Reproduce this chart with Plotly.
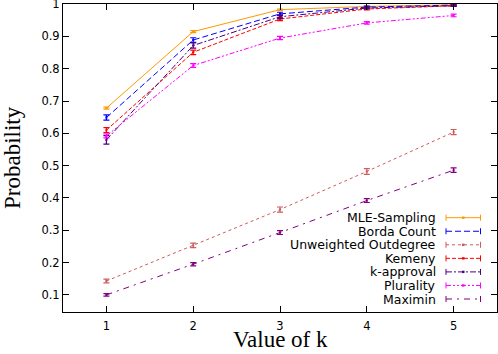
import plotly.graph_objects as go

k_values = [1, 2, 3, 4, 5]

mle_sampling = [0.678, 0.915, 0.983, 0.993, 0.998]
mle_sampling_err = [0.003, 0.003, 0.002, 0.001, 0.001]
borda_count = [0.649, 0.889, 0.970, 0.991, 0.997]
borda_count_err = [0.008, 0.007, 0.005, 0.003, 0.002]
unweighted_outdegree = [0.143, 0.253, 0.364, 0.482, 0.604]
unweighted_outdegree_err = [0.006, 0.007, 0.008, 0.009, 0.008]
kemeny = [0.610, 0.851, 0.954, 0.985, 0.995]
kemeny_err = [0.008, 0.007, 0.005, 0.003, 0.002]
k_approval = [0.580, 0.872, 0.961, 0.988, 0.995]
k_approval_err = [0.013, 0.008, 0.006, 0.003, 0.002]
plurality = [0.592, 0.810, 0.895, 0.942, 0.965]
plurality_err = [0.006, 0.006, 0.005, 0.004, 0.004]
maximin = [0.100, 0.195, 0.293, 0.392, 0.486]
maximin_err = [0.004, 0.005, 0.006, 0.006, 0.007]

series = [
    ('MLE-Sampling', mle_sampling, mle_sampling_err, '#ff9900', 'solid'),
    ('Borda Count', borda_count, borda_count_err, '#0000ff', '6px,3px'),
    ('Unweighted Outdegree', unweighted_outdegree, unweighted_outdegree_err, '#cd5c5c', '3px,3px'),
    ('Kemeny', kemeny, kemeny_err, '#ff0000', '4px,2px'),
    ('k-approval', k_approval, k_approval_err, '#4b0082', '6px,2px,2px,2px'),
    ('Plurality', plurality, plurality_err, '#ff00ff', '5px,2px,2px,2px,2px,2px'),
    ('Maximin', maximin, maximin_err, '#800080', '6px,5px,2px,5px'),
]

fig = go.Figure()
for name, vals, errs, color, dash in series:
    fig.add_scatter(x=k_values, y=vals, name=name, mode='lines+markers',
                    line=dict(color=color, width=1, dash=dash),
                    marker=dict(color=color, size=2, symbol='square'),
                    error_y=dict(type='data', array=errs, color=color, thickness=1.2, width=3),
                    showlegend=False)

# hand-built key: text right aligned, sample line on the right (gnuplot style)
W, H, L, T = 434, 308, 63, 4
def px(x):
    return (x - L) / W
def py(y):
    return (T + H - y) / H

shapes = []
annotations = []
for i, (name, vals, errs, color, dash) in enumerate(series):
    yy = 217.7 + i * 13.55
    annotations.append(dict(x=px(438), y=py(yy), xref='paper', yref='paper', text=name,
                            showarrow=False, xanchor='right', yanchor='middle',
                            font=dict(family='DejaVu Sans', size=12.5, color='black')))
    shapes.append(dict(type='line', xref='paper', yref='paper', x0=px(446), x1=px(480.5),
                       y0=py(yy), y1=py(yy), line=dict(color=color, width=1, dash=dash)))
    for xe in (446, 480.5):
        shapes.append(dict(type='line', xref='paper', yref='paper', x0=px(xe), x1=px(xe),
                           y0=py(yy - 3), y1=py(yy + 3), line=dict(color=color, width=1)))
    if dash not in ('6px,3px', '6px,5px,2px,5px'):
        shapes.append(dict(type='rect', xref='paper', yref='paper', x0=px(462), x1=px(464.5),
                           y0=py(yy - 1.2), y1=py(yy + 1.2), line=dict(width=0), fillcolor=color))

annotations.append(dict(x=0, y=0.5, xref='paper', yref='paper', text='Probability',
                        showarrow=False, textangle=-90, xanchor='center', yanchor='middle',
                        xshift=-51, font=dict(family='Liberation Serif', size=23, color='black')))
annotations.append(dict(x=0.5, y=0, xref='paper', yref='paper', text='Value of k',
                        showarrow=False, xanchor='center', yanchor='bottom', yshift=-42,
                        font=dict(family='Liberation Serif', size=23, color='black')))

fig.update_layout(
    width=498, height=354,
    margin=dict(l=63, r=1, t=4, b=42),
    plot_bgcolor='white', paper_bgcolor='white',
    shapes=shapes, annotations=annotations,
    font=dict(family='DejaVu Sans', size=11.5, color='black'),
)
fig.update_xaxes(range=[0.5, 5.5], tickvals=k_values, ticktext=[str(k) for k in k_values],
                 ticks='inside', ticklen=6, tickcolor='black', showline=True, linecolor='black',
                 linewidth=1, mirror='ticks', showgrid=False, zeroline=False, automargin=False,
                 ticklabelstandoff=3)
fig.update_yaxes(range=[0.047, 1.0005], tickvals=[0.1, 0.2, 0.3, 0.4, 0.5, 0.6, 0.7, 0.8, 0.9, 1.0],
                 ticktext=['0.1', '0.2', '0.3', '0.4', '0.5', '0.6', '0.7', '0.8', '0.9', '1'],
                 ticks='inside', ticklen=6, tickcolor='black', showline=True, linecolor='black',
                 linewidth=1, mirror='ticks', showgrid=False, zeroline=False, automargin=False,
                 ticklabeloverflow='allow')

# page body has a default 8px margin; drop it so the figure sits at the window corner
fig.write_html("out.html", config={'displayModeBar': False},
               post_script="document.body.style.margin='0px';")
